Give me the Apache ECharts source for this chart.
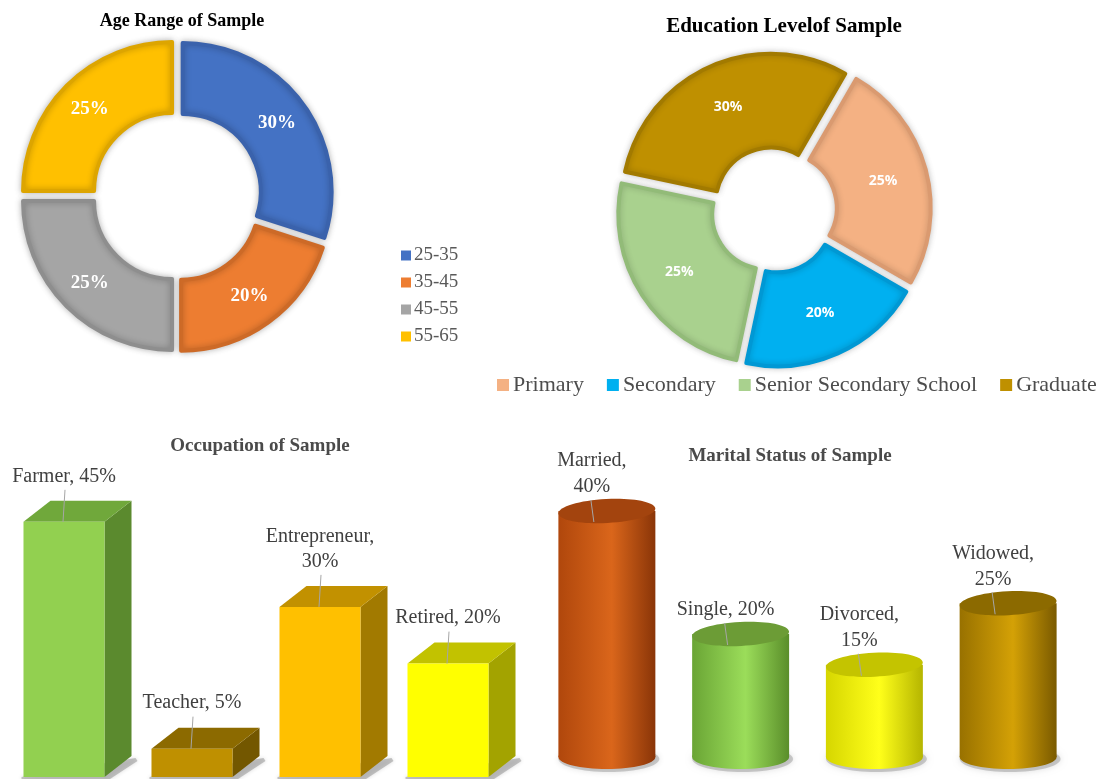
<!DOCTYPE html>
<html>
<head>
<meta charset="utf-8">
<script src="https://cdn.jsdelivr.net/npm/echarts@6/dist/echarts.min.js"></script>
<style>
html,body{margin:0;padding:0;background:#ffffff;}
#chart{width:1109px;height:779px;}
</style>
</head>
<body>
<div id="chart"></div>
<script>
// ---------- data ----------
const ageCategories = ['25-35', '35-45', '45-55', '55-65'];
const ageValues = [30, 20, 25, 25];

const eduCategories = ['Primary', 'Secondary', 'Senior Secondary School', 'Graduate'];
const eduValues = [25, 20, 25, 30];

const occCategories = ['Farmer', 'Teacher', 'Entrepreneur', 'Retired'];
const occValues = [45, 5, 30, 20];

const marCategories = ['Married', 'Single', 'Divorced', 'Widowed'];
const marValues = [40, 20, 15, 25];

// ---------- styles ----------
const SERIF = "'Liberation Serif','Times New Roman',serif";
const ageColors = ['#4472C4', '#ED7D31', '#A5A5A5', '#FFC000'];
const ageBorders = ['#3A62AC', '#CD6A27', '#8E8E8E', '#DDA500'];
const eduColors = ['#F4B183', '#00B0F0', '#A9D18E', '#BF9000'];
const eduBorders = ['#DA9A70', '#0098D4', '#92BB78', '#A27A00'];
const occFaces = [
  {front: '#92D050', top: '#70A83B', side: '#5B8A2E'},
  {front: '#BF9000', top: '#8C6A00', side: '#735700'},
  {front: '#FFC000', top: '#C29100', side: '#A27A00'},
  {front: '#FFFF00', top: '#C2C200', side: '#A3A300'}
];
const occWrap = [false, false, true, false];
const marFaces = [
  {left: '#B0470C', mid: '#DA661B', right: '#8A3508', top: '#A3440E'},
  {left: '#6AA535', mid: '#9BDD5A', right: '#5A8E2A', top: '#6C9C36'},
  {left: '#D6D600', mid: '#FFFF1A', right: '#B5B500', top: '#C4C400'},
  {left: '#987100', mid: '#D4A106', right: '#7A5A00', top: '#8C6A00'}
];
const marWrap = [true, false, true, true];

function makeLabel(cat, val, wrap) {
  return wrap ? cat + ',\n' + val + '%' : cat + ', ' + val + '%';
}

function renderBox(params, api) {
  const i = params.dataIndex;
  const top = api.coord([api.value(0), api.value(1)]);
  const base = api.coord([api.value(0), 0]);
  const band = api.size([1, 0])[0];
  const w = band * 0.633;
  const dx = 27, dy = 21;
  const l = top[0] - w / 2, r = top[0] + w / 2, t = top[1], b = base[1];
  const f = occFaces[i];
  return {
    type: 'group',
    children: [
      {type: 'polygon', shape: {points: [[l - 2, b], [r + dx + 4, b - dy + 2], [r + dx + 6, b - dy + 5], [r + 4, b + 3], [l - 2, b + 3]]},
        style: {fill: 'rgba(130,130,130,0.45)', shadowBlur: 4, shadowColor: 'rgba(0,0,0,0.3)'}},
      {type: 'polygon', shape: {points: [[r, t], [r + dx, t - dy], [r + dx, b - dy], [r, b]]}, style: {fill: f.side}},
      {type: 'polygon', shape: {points: [[l, t], [l + dx, t - dy], [r + dx, t - dy], [r, t]]}, style: {fill: f.top}},
      {type: 'rect', shape: {x: l, y: t, width: w, height: b - t}, style: {fill: f.front}},
      {type: 'line', shape: {x1: top[0] + 1, y1: t - 32, x2: top[0] - 1, y2: t}, style: {stroke: '#A6A6A6', lineWidth: 1}},
      {type: 'text', style: {
        text: makeLabel(occCategories[i], occValues[i], occWrap[i]),
        x: top[0], y: t - 33, align: 'center', verticalAlign: 'bottom',
        fontSize: 20, lineHeight: 25, fontFamily: SERIF, fill: '#404040'}}
    ]
  };
}

function renderCyl(params, api) {
  const i = params.dataIndex;
  const top = api.coord([api.value(0), api.value(1)]);
  const base = api.coord([api.value(0), 0]);
  const w = api.size([1, 0])[0] * 0.725;
  const rx = w / 2, ry = 12;
  const cx = top[0], t = top[1], b = base[1];
  const c = marFaces[i];
  const grad = new echarts.graphic.LinearGradient(0, 0, 1, 0, [
    {offset: 0, color: c.left}, {offset: 0.55, color: c.mid}, {offset: 1, color: c.right}
  ]);
  return {
    type: 'group',
    children: [
      {type: 'ellipse', shape: {cx: cx + 2, cy: b + 2, rx: rx + 2, ry: ry + 1},
        style: {fill: 'rgba(120,120,120,0.35)', shadowBlur: 6, shadowColor: 'rgba(0,0,0,0.35)'}},
      {type: 'ellipse', shape: {cx: cx, cy: b, rx: rx, ry: ry}, style: {fill: grad}},
      {type: 'rect', shape: {x: cx - rx, y: t, width: w, height: b - t}, style: {fill: grad}},
      {type: 'ellipse', shape: {cx: cx, cy: t, rx: rx, ry: ry}, originX: cx, originY: t, rotation: 0.05, style: {fill: c.top}},
      {type: 'line', shape: {x1: cx - 16, y1: t - 11, x2: cx - 13, y2: t + 11}, style: {stroke: '#A6A6A6', lineWidth: 1}},
      {type: 'text', style: {
        text: makeLabel(marCategories[i], marValues[i], marWrap[i]),
        x: cx - 15, y: t - 11, align: 'center', verticalAlign: 'bottom',
        fontSize: 20, lineHeight: 26, fontFamily: SERIF, fill: '#404040'}}
    ]
  };
}

const chart = echarts.init(document.getElementById('chart'), null, {renderer: 'canvas'});

const option = {
  animation: false,
  backgroundColor: '#ffffff',
  title: [
    {text: 'Age Range of Sample', left: 182, top: 12, textAlign: 'center', padding: 0,
      textStyle: {fontFamily: SERIF, fontWeight: 'bold', fontSize: 18, color: '#000000'}},
    {text: 'Education Levelof Sample', left: 784, top: 16, textAlign: 'center', padding: 0,
      textStyle: {fontFamily: SERIF, fontWeight: 'bold', fontSize: 21, color: '#000000'}},
    {text: 'Occupation of Sample', left: 260, top: 437, textAlign: 'center', padding: 0,
      textStyle: {fontFamily: SERIF, fontWeight: 'bold', fontSize: 19, color: '#4a4a4a'}},
    {text: 'Marital Status of Sample', left: 790, top: 447, textAlign: 'center', padding: 0,
      textStyle: {fontFamily: SERIF, fontWeight: 'bold', fontSize: 19, color: '#4a4a4a'}}
  ],
  legend: [
    {data: ageCategories, orient: 'vertical', left: 401, top: 246, padding: 0,
      icon: 'rect', itemWidth: 10, itemHeight: 10, itemGap: 8, selectedMode: false,
      itemStyle: {borderWidth: 0},
      textStyle: {fontFamily: SERIF, fontSize: 19, lineHeight: 19, color: '#595959', padding: [0, 0, 0, -2]}},
    {data: eduCategories, orient: 'horizontal', left: 497, top: 374, padding: 0,
      icon: 'rect', itemWidth: 12, itemHeight: 12, itemGap: 23, selectedMode: false,
      itemStyle: {borderWidth: 0},
      textStyle: {fontFamily: SERIF, fontSize: 22, lineHeight: 22, color: '#4d4d4d', padding: [0, 0, 0, -1]}}
  ],
  grid: [
    {left: 0, width: 512, top: 210, height: 567},
    {left: 540, width: 535, top: 142, height: 615}
  ],
  xAxis: [
    {type: 'category', gridIndex: 0, data: occCategories, show: false},
    {type: 'category', gridIndex: 1, data: marCategories, show: false}
  ],
  yAxis: [
    {type: 'value', gridIndex: 0, min: 0, max: 100, show: false},
    {type: 'value', gridIndex: 1, min: 0, max: 100, show: false}
  ],
  series: [
    {
      type: 'pie', center: [177, 196], radius: [78, 149], startAngle: 90, clockwise: true,
      selectedMode: 'multiple', selectedOffset: 7, avoidLabelOverlap: false,
      itemStyle: {borderWidth: 4, shadowBlur: 6, shadowColor: 'rgba(0,0,0,0.25)'},
      label: {show: true, position: 'inside', formatter: '{c}%', fontFamily: SERIF, fontWeight: 'bold', fontSize: 19, color: '#ffffff'},
      labelLine: {show: false},
      emphasis: {disabled: true},
      data: ageCategories.map((n, i) => ({name: n, value: ageValues[i], selected: true,
        itemStyle: {color: ageColors[i], borderColor: ageBorders[i]}}))
    },
    {
      type: 'pie', center: [774, 210], radius: [55, 149], startAngle: 60, clockwise: true,
      selectedMode: 'multiple', selectedOffset: 8, avoidLabelOverlap: false,
      itemStyle: {borderWidth: 4, shadowBlur: 6, shadowColor: 'rgba(0,0,0,0.2)'},
      label: {show: true, position: 'inside', formatter: '{c}%', fontFamily: "'Open Sans','Liberation Sans',sans-serif", fontWeight: 'bold', fontSize: 14, color: '#ffffff'},
      labelLine: {show: false},
      emphasis: {disabled: true},
      data: eduCategories.map((n, i) => ({name: n, value: eduValues[i], selected: true,
        itemStyle: {color: eduColors[i], borderColor: eduBorders[i]}}))
    },
    {
      type: 'custom', xAxisIndex: 0, yAxisIndex: 0, renderItem: renderBox, clip: false,
      data: occValues.map((v, i) => [i, v])
    },
    {
      type: 'custom', xAxisIndex: 1, yAxisIndex: 1, renderItem: renderCyl, clip: false,
      data: marValues.map((v, i) => [i, v])
    }
  ]
};
chart.setOption(option);
</script>
</body>
</html>
